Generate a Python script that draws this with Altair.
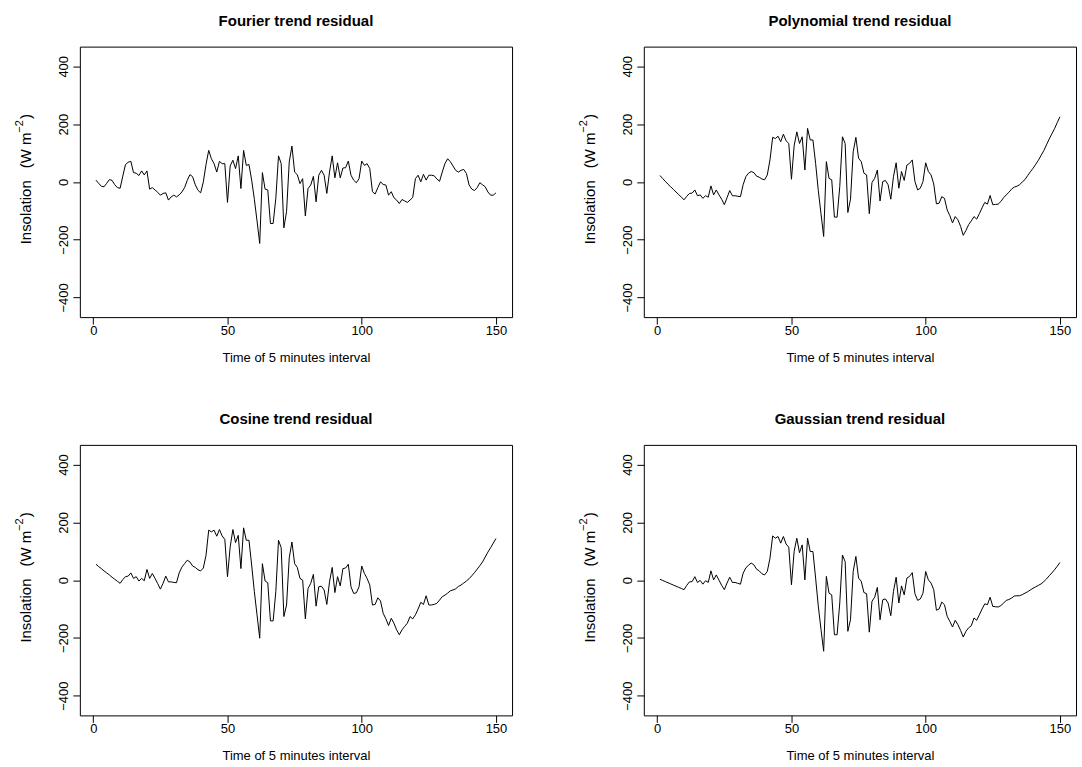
import altair as alt
import pandas as pd

# Time index (5-minute intervals)
time_idx = list(range(1, 151))

fourier_resid = [
    6, -5, -15, -17, -5, 8, 5, -10, -20, -22,
    20, 60, 68, 71, 32, 30, 22, 38, 24, 38,
    -25, -20, -28, -36, -46, -40, -38, -63, -52, -46,
    -52, -45, -35, -20, 5, 25, 18, -10, -29, -38,
    0, 60, 109, 80, 63, 34, 71, 63, 63, -71,
    55, 75, 46, 90, -23, 109, 57, 60, 6, -60,
    -135, -213, 32, -25, -28, -144, -144, -57, 90, 63,
    -159, -103, 69, 124, 34, 25, -6, 11, -118, -23,
    -11, 19, -69, 23, 40, 23, -40, 34, 90, 14,
    66, 14, 48, 49, 72, 23, 6, -3, 11, 72,
    57, 63, 46, -34, -42, -20, 0, -9, -11, -46,
    -34, -55, -63, -75, -61, -66, -71, -63, -54, 11,
    23, 0, 26, 6, 23, 23, 21, 10, 2, 34,
    63, 80, 70, 55, 40, 34, 40, 43, 29, -11,
    -25, -30, -20, -3, -10, -17, -35, -46, -46, -38,
]

poly_resid = [
    22, 12, 2, -8, -17, -26, -35, -44, -53, -62,
    -50, -40, -39, -28, -48, -45, -57, -48, -53, -14,
    -45, -28, -45, -60, -79, -55, -30, -48, -48, -50,
    -51, -10, 18, 30, 36, 32, 20, 16, 10, 7,
    24, 76, 154, 150, 158, 139, 165, 142, 133, 9,
    125, 173, 133, 156, 41, 185, 145, 145, 64, -30,
    -110, -189, 70, 12, 7, -122, -122, -16, 156, 133,
    -106, -60, 104, 154, 82, 70, 30, 24, -110, -2,
    12, 41, -66, 1, 5, -10, -60, 18, 66, -22,
    36, 5, 58, 64, 76, 1, -28, -22, 1, 66,
    36, 24, -7, -76, -74, -51, -57, -97, -117, -142,
    -120, -131, -154, -185, -168, -148, -135, -120, -129, -110,
    -90, -71, -77, -47, -79, -78, -77, -68, -55, -45,
    -36, -25, -18, -15, -10, 0, 8, 22, 35, 47,
    61, 75, 92, 108, 128, 148, 166, 184, 205, 225,
]

cosine_resid = [
    55, 47, 40, 32, 25, 18, 10, 3, -4, -11,
    2, 12, 14, 25, 6, 12, -3, 6, -2, 37,
    6, 23, 6, -12, -31, -11, 14, -6, -6, -8,
    -9, 25, 45, 57, 69, 63, 49, 44, 36, 32,
    42, 86, 173, 167, 173, 152, 175, 153, 141, 12,
    115, 175, 130, 155, 40, 181, 138, 138, 52, -40,
    -120, -201, 57, -3, -9, -141, -141, -40, 138, 112,
    -126, -86, 77, 132, 57, 44, 6, 0, -134, -29,
    -11, 20, -90, -23, -21, -34, -84, -6, 44, -43,
    12, -20, 40, 42, 55, -23, -46, -44, -23, 49,
    23, 6, -17, -86, -84, -61, -72, -115, -134, -157,
    -132, -149, -172, -189, -172, -160, -149, -126, -134, -120,
    -100, -77, -84, -54, -86, -86, -84, -80, -69, -57,
    -52, -45, -37, -34, -30, -22, -17, -10, -3, 5,
    15, 26, 38, 50, 63, 80, 97, 112, 128, 144,
]

gauss_resid = [
    3, -1, -5, -9, -13, -17, -21, -25, -29, -33,
    -18, -6, -5, 12, -8, -1, -14, -2, -8, 32,
    1, 18, 0, -18, -33, -10, 10, -8, -8, -11,
    -14, 24, 42, 52, 59, 53, 38, 32, 22, 18,
    30, 76, 153, 145, 151, 128, 151, 125, 114, -16,
    100, 145, 95, 122, 1, 145, 99, 99, 7, -90,
    -170, -246, 13, -45, -51, -189, -189, -79, 87, 64,
    -177, -137, 30, 82, 7, -4, -43, -47, -180, -73,
    -59, -25, -137, -68, -65, -79, -123, -39, 10, -79,
    -20, -51, 7, 13, 26, -47, -70, -65, -45, 30,
    1, -10, -33, -104, -100, -76, -85, -125, -143, -162,
    -139, -154, -174, -197, -177, -165, -158, -131, -139, -120,
    -100, -82, -85, -59, -91, -92, -93, -88, -80, -70,
    -67, -62, -55, -54, -54, -50, -45, -40, -34, -28,
    -23, -18, -13, -5, 4, 15, 25, 36, 48, 61,
]

x_ticks = [0, 50, 100, 150]
y_ticks = [-400, -200, 0, 200, 400]

FONT = "Liberation Sans"
PANEL_W = 433
PANEL_H = 271

# y-axis title pieces: text, font size, x offset, y position in panel pixels
ylab_parts = ["Insolation", "(W\u00a0m", "\u22122", ")"]
ylab_sizes = [15, 15, 11, 15]
ylab_x = [-54, -54, -60, -54]
ylab_y = [166, 104, 80, 70]


def y_title_layer():
    layers = []
    for txt, size, xo, yo in zip(ylab_parts, ylab_sizes, ylab_x, ylab_y):
        layers.append(
            alt.Chart(pd.DataFrame({"s": [txt]}))
            .mark_text(
                angle=270,
                align="center",
                baseline="middle",
                fontSize=size,
                font=FONT,
                color="black",
            )
            .encode(text="s:N", x=alt.value(xo), y=alt.value(yo))
        )
    return layers


def panel(values, title):
    df = pd.DataFrame({"t": time_idx, "v": values})
    line = (
        alt.Chart(df)
        .mark_line(color="black", strokeWidth=1)
        .encode(
            x=alt.X(
                "t:Q",
                scale=alt.Scale(domain=[-5, 156], nice=False, zero=False),
                axis=alt.Axis(
                    values=x_ticks,
                    title="Time of 5 minutes interval",
                    labelPadding=0,
                    titlePadding=14,
                ),
            ),
            y=alt.Y(
                "v:Q",
                scale=alt.Scale(domain=[-468, 468], nice=False, zero=False),
                axis=alt.Axis(
                    values=y_ticks,
                    title=None,
                    labelAngle=270,
                    labelAlign="center",
                    labelBaseline="bottom",
                    labelPadding=2,
                ),
            ),
        )
    )
    return alt.layer(line, *y_title_layer()).properties(
        width=PANEL_W,
        height=PANEL_H,
        title=alt.TitleParams(text=title, offset=18),
    )


top = alt.hconcat(
    panel(fourier_resid, "Fourier trend residual"),
    panel(poly_resid, "Polynomial trend residual"),
    spacing=64,
)
bottom = alt.hconcat(
    panel(cosine_resid, "Cosine trend residual"),
    panel(gauss_resid, "Gaussian trend residual"),
    spacing=64,
)

chart = (
    alt.vconcat(top, bottom, spacing=46)
    .properties(padding={"left": 13, "top": 12, "right": 5, "bottom": 5})
    .configure(background="white")
    .configure_view(stroke="black", strokeWidth=1)
    .configure_axis(
        grid=False,
        domain=False,
        ticks=True,
        tickColor="black",
        tickSize=7,
        tickWidth=1,
        labelColor="black",
        titleColor="black",
        labelFont=FONT,
        titleFont=FONT,
        labelFontSize=13,
        titleFontSize=13,
        titleFontWeight="normal",
    )
    .configure_title(
        font=FONT, fontSize=15, fontWeight="bold", anchor="middle", color="black"
    )
)

chart.save("out.html", embed_options={"renderer": "svg", "actions": False})
